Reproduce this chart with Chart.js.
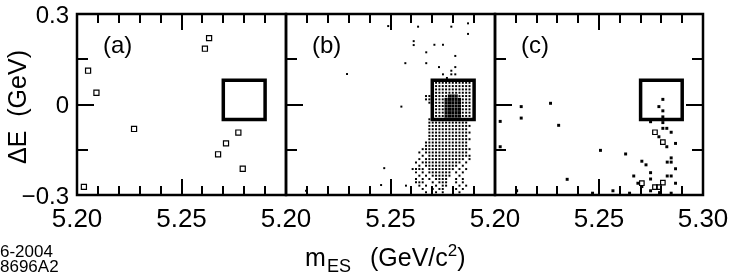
<!DOCTYPE html>
<html>
<head>
<meta charset="utf-8">
<script src="https://cdn.jsdelivr.net/npm/chart.js@4.4.1/dist/chart.umd.min.js"></script>
<style>
  html, body { margin: 0; padding: 0; background: #fff; }
  #wrap { position: relative; width: 731px; height: 278px; }
  #wrap canvas { position: absolute; left: 0; top: 0; }
</style>
</head>
<body>
<div id="wrap">
  <canvas id="panelA" width="731" height="278"></canvas>
  <canvas id="panelB" width="731" height="278"></canvas>
  <canvas id="panelC" width="731" height="278"></canvas>
</div>
<script>
// ── AXES ──────────────────────────────────────────────────
const X_MIN = 5.20, X_MAX = 5.30;
const Y_MIN = -0.3, Y_MAX = 0.3;
const X_TICKS       = [5.20, 5.25, 5.30];
const X_TICK_LABELS = ["5.20", "5.25", "5.30"];
const X_MINOR       = [5.21, 5.22, 5.23, 5.24, 5.25, 5.26, 5.27, 5.28, 5.29];
const Y_TICKS       = [0.3, 0, -0.3];
const Y_TICK_LABELS = ["0.3", "0", "\u22120.3"];
const Y_MINOR       = [0.15, 0, -0.15];

// signal region (mES, ΔE)
const BOX_X = [5.27, 5.29];
const BOX_Y = [-0.05, 0.08];

// ── (a) data: open squares ───────────────────────────────
const A_POINTS = [
  [5.2033, -0.273], [5.2053, 0.112], [5.2093, 0.039], [5.2273, -0.081],
  [5.2612, 0.185], [5.2632, 0.220], [5.2675, -0.165], [5.2713, -0.129],
  [5.2772, -0.093], [5.2793, -0.213],
];

// ── (b) Monte Carlo: binned dots ('#' dot, '@' overlapping) ─
const B_COLS = [5.2590, 5.2606, 5.2622, 5.2638, 5.2654, 5.2670, 5.2686, 5.2702, 5.2718, 5.2734,
                5.2750, 5.2766, 5.2782, 5.2798, 5.2814, 5.2830, 5.2846, 5.2862, 5.2878, 5.2894];
const B_ROWS = [0.072, 0.061, 0.050, 0.039, 0.028, 0.017, 0.006, -0.005, -0.016, -0.027,
                -0.038, -0.049, -0.060, -0.071, -0.082, -0.093, -0.104, -0.115, -0.126, -0.137,
                -0.148, -0.159, -0.170, -0.181, -0.192, -0.203, -0.214, -0.225, -0.236, -0.247,
                -0.258, -0.269, -0.280, -0.291];
const B_MASK = [
  ".......############.",
  ".......############.",
  ".......############.",
  ".......############.",
  ".....#######@@@####.",
  ".....######@@@@@###.",
  "......#####@@@@@###.",
  ".......####@@@@@###.",
  ".......####@@@@@###.",
  ".......####@@@@@###.",
  ".......####@@@@@###.",
  "......#####@@@@@###.",
  "......############..",
  "......#############.",
  "......############..",
  "......#############.",
  "......############..",
  "......#############.",
  ".....#############..",
  ".....#############..",
  "....###############.",
  "...#.#############..",
  "....#.#############.",
  "...#.############.#.",
  "..#.############.#..",
  "...#.##########.#...",
  ".####.########.#.#..",
  "..#.#.#######.#.#...",
  "...#.#.######..#....",
  "..#.#.#.####..#.#...",
  "..###..#.###..#.#...",
  "...#.#..#.##...#.#..",
  "....#..#.##...#.#...",
  ".....#..#.#....#....",
];
const B_SPARSE = [
  [5.2489, 0.260], [5.2632, 0.258], [5.2791, 0.258], [5.2871, 0.269], [5.2871, 0.234],
  [5.2611, 0.210], [5.2611, 0.197], [5.2710, 0.198], [5.2751, 0.198], [5.2671, 0.173],
  [5.2810, 0.161], [5.2571, 0.137], [5.2671, 0.137], [5.2732, 0.124], [5.2810, 0.124],
  [5.2791, 0.112], [5.2751, 0.100], [5.2791, 0.100], [5.2810, 0.100], [5.2770, 0.088],
  [5.2292, 0.101], [5.2552, -0.007], [5.2470, -0.211], [5.2096, -0.286], [5.2455, -0.267],
  [5.2574, -0.269],
];

// ── (c) data ─────────────────────────────────────────────
const C_FILLED = [
  [5.2807, 0.017], [5.2788, -0.007], [5.2807, -0.021], [5.2126, -0.007], [5.2126, -0.045],
  [5.2267, 0.004], [5.2025, -0.056], [5.2306, -0.069], [5.2025, -0.140], [5.2507, -0.152],
  [5.2628, -0.164], [5.2347, -0.248], [5.2706, -0.188], [5.2726, -0.200], [5.2667, -0.237],
  [5.2748, -0.226], [5.2748, -0.247], [5.2807, -0.060], [5.2807, -0.079], [5.2826, -0.079],
  [5.2847, -0.092], [5.2788, -0.107], [5.2826, -0.140], [5.2868, -0.129], [5.2847, -0.177],
  [5.2828, -0.191], [5.2847, -0.191], [5.2868, -0.213], [5.2828, -0.237], [5.2847, -0.237],
  [5.2868, -0.261], [5.2687, -0.261], [5.2706, -0.272], [5.2748, -0.286], [5.2567, -0.286],
  [5.2647, -0.294], [5.2469, -0.294], [5.2847, -0.294], [5.2791, -0.292], [5.2104, -0.286],
  [5.2748, -0.057], [5.2807, -0.041],
];
const C_OPEN = [
  [5.2769, -0.092], [5.2807, -0.125], [5.2706, -0.261], [5.2769, -0.274],
  [5.2788, -0.274], [5.2807, -0.259],
];

// ── helpers ──────────────────────────────────────────────
const toXY = arr => arr.map(([x, y]) => ({ x, y }));

function maskPoints(ch) {
  const pts = [];
  B_MASK.forEach((row, r) => {
    [...row].forEach((c, i) => { if (c === ch) pts.push({ x: B_COLS[i], y: B_ROWS[r] }); });
  });
  return pts;
}

function boxDataset() {
  return {
    data: [
      { x: BOX_X[0], y: BOX_Y[0] }, { x: BOX_X[1], y: BOX_Y[0] },
      { x: BOX_X[1], y: BOX_Y[1] }, { x: BOX_X[0], y: BOX_Y[1] },
      { x: BOX_X[0], y: BOX_Y[0] },
    ],
    showLine:        true,
    borderColor:     "#000",
    borderWidth:     3.5,
    borderCapStyle:  "square",
    borderJoinStyle: "miter",
    pointRadius:     0,
    tension:         0,
  };
}

function dots(data, radius, filled, bw) {
  return {
    data,
    pointStyle:           "rect",
    pointRadius:          radius,
    pointBorderWidth:     bw,
    pointBorderColor:     "#000",
    pointBackgroundColor: filled ? "#000" : "rgba(0,0,0,0)",
  };
}

// ── frame, inward ticks, labels ──────────────────────────
const FONT = "'Liberation Sans', Arial, Helvetica, sans-serif";

const frameTicks = {
  id: "frameTicks",
  afterDraw(chart, args, opts) {
    const { ctx, chartArea: a, scales: { x, y } } = chart;
    ctx.save();
    ctx.strokeStyle = "#000";
    ctx.fillStyle   = "#000";

    ctx.lineWidth = 2;
    ctx.beginPath();
    X_MINOR.forEach(v => {
      const px  = Math.round(x.getPixelForValue(v));
      const len = v === 5.25 ? 16 : 9;
      ctx.moveTo(px, a.top);    ctx.lineTo(px, a.top + len);
      ctx.moveTo(px, a.bottom); ctx.lineTo(px, a.bottom - len);
    });
    Y_MINOR.forEach(v => {
      const py  = Math.round(y.getPixelForValue(v));
      const len = v === 0 ? 17 : 11;
      ctx.moveTo(a.left, py); ctx.lineTo(a.left + len, py);
      if (opts.rightTicks) { ctx.moveTo(a.right, py); ctx.lineTo(a.right - len, py); }
    });
    ctx.stroke();

    ctx.lineWidth = 2.5;
    ctx.strokeRect(a.left, a.top, a.right - a.left, a.bottom - a.top);

    // panel label
    ctx.font = `24px ${FONT}`;
    ctx.textAlign = "left";
    ctx.textBaseline = "middle";
    ctx.fillText(opts.label, a.left + 26, 46);

    // x tick labels
    ctx.font = `26px ${FONT}`;
    ctx.textAlign = "center";
    ctx.textBaseline = "alphabetic";
    X_TICKS.forEach((v, i) => {
      if (v === 5.30 && !opts.lastX) return;
      ctx.fillText(X_TICK_LABELS[i], x.getPixelForValue(v), 227);
    });

    if (opts.yLabels) {
      ctx.font = `24px ${FONT}`;
      ctx.textAlign = "right";
      ctx.textBaseline = "middle";
      Y_TICKS.forEach((v, i) => ctx.fillText(Y_TICK_LABELS[i], a.left - 8, y.getPixelForValue(v) + 2));

      // y title
      ctx.save();
      ctx.translate(26, 107);
      ctx.rotate(-Math.PI / 2);
      ctx.font = `25px ${FONT}`;
      ctx.textAlign = "center";
      ctx.textBaseline = "alphabetic";
      ctx.fillText("\u0394E  (GeV)", 0, 0);
      ctx.restore();

      // x title: m_ES (GeV/c^2)
      ctx.textAlign = "left";
      ctx.textBaseline = "alphabetic";
      ctx.font = `25px ${FONT}`;
      ctx.fillText("m", 305, 266);
      ctx.font = `18px ${FONT}`;
      ctx.fillText("ES", 327, 272);
      ctx.font = `25px ${FONT}`;
      ctx.fillText("(GeV/c", 370, 266);
      let w = ctx.measureText("(GeV/c").width;
      ctx.font = `17px ${FONT}`;
      ctx.fillText("2", 370 + w, 256);
      const w2 = ctx.measureText("2").width;
      ctx.font = `25px ${FONT}`;
      ctx.fillText(")", 370 + w + w2, 266);

      // plot stamp
      ctx.font = `17px ${FONT}`;
      ctx.fillText("6-2004", 0, 257);
      ctx.fillText("8696A2", 0, 272);
    }
    ctx.restore();
  },
};

function makePanel(id, left, right, datasets, deco) {
  return new Chart(document.getElementById(id), {
    type: "scatter",
    data: { datasets },
    plugins: [frameTicks],
    options: {
      responsive: false,
      animation:  false,
      events:     [],
      layout: { padding: { left, right: 731 - right, top: 14, bottom: 278 - 195 } },
      plugins: {
        legend:     { display: false },
        tooltip:    { enabled: false },
        frameTicks: deco,
      },
      scales: {
        x: { type: "linear", min: X_MIN, max: X_MAX, display: false },
        y: { type: "linear", min: Y_MIN, max: Y_MAX, display: false },
      },
    },
  });
}

Chart.defaults.font.family = FONT;

makePanel("panelA", 77, 286, [
  boxDataset(),
  dots(toXY(A_POINTS), 3.6, false, 1.2),
], { label: "(a)", yLabels: true, lastX: false, rightTicks: false });

makePanel("panelB", 286, 495, [
  boxDataset(),
  dots(maskPoints("@"), 2.2, true, 0),
  dots(maskPoints("#"), 1.4, true, 0),
  dots(toXY(B_SPARSE), 1.4, true, 0),
], { label: "(b)", yLabels: false, lastX: false, rightTicks: false });

makePanel("panelC", 495, 703, [
  boxDataset(),
  dots(toXY(C_OPEN), 3.2, false, 1.2),
  dots(toXY(C_FILLED), 2.1, true, 0),
], { label: "(c)", yLabels: false, lastX: true, rightTicks: true });
</script>
</body>
</html>
